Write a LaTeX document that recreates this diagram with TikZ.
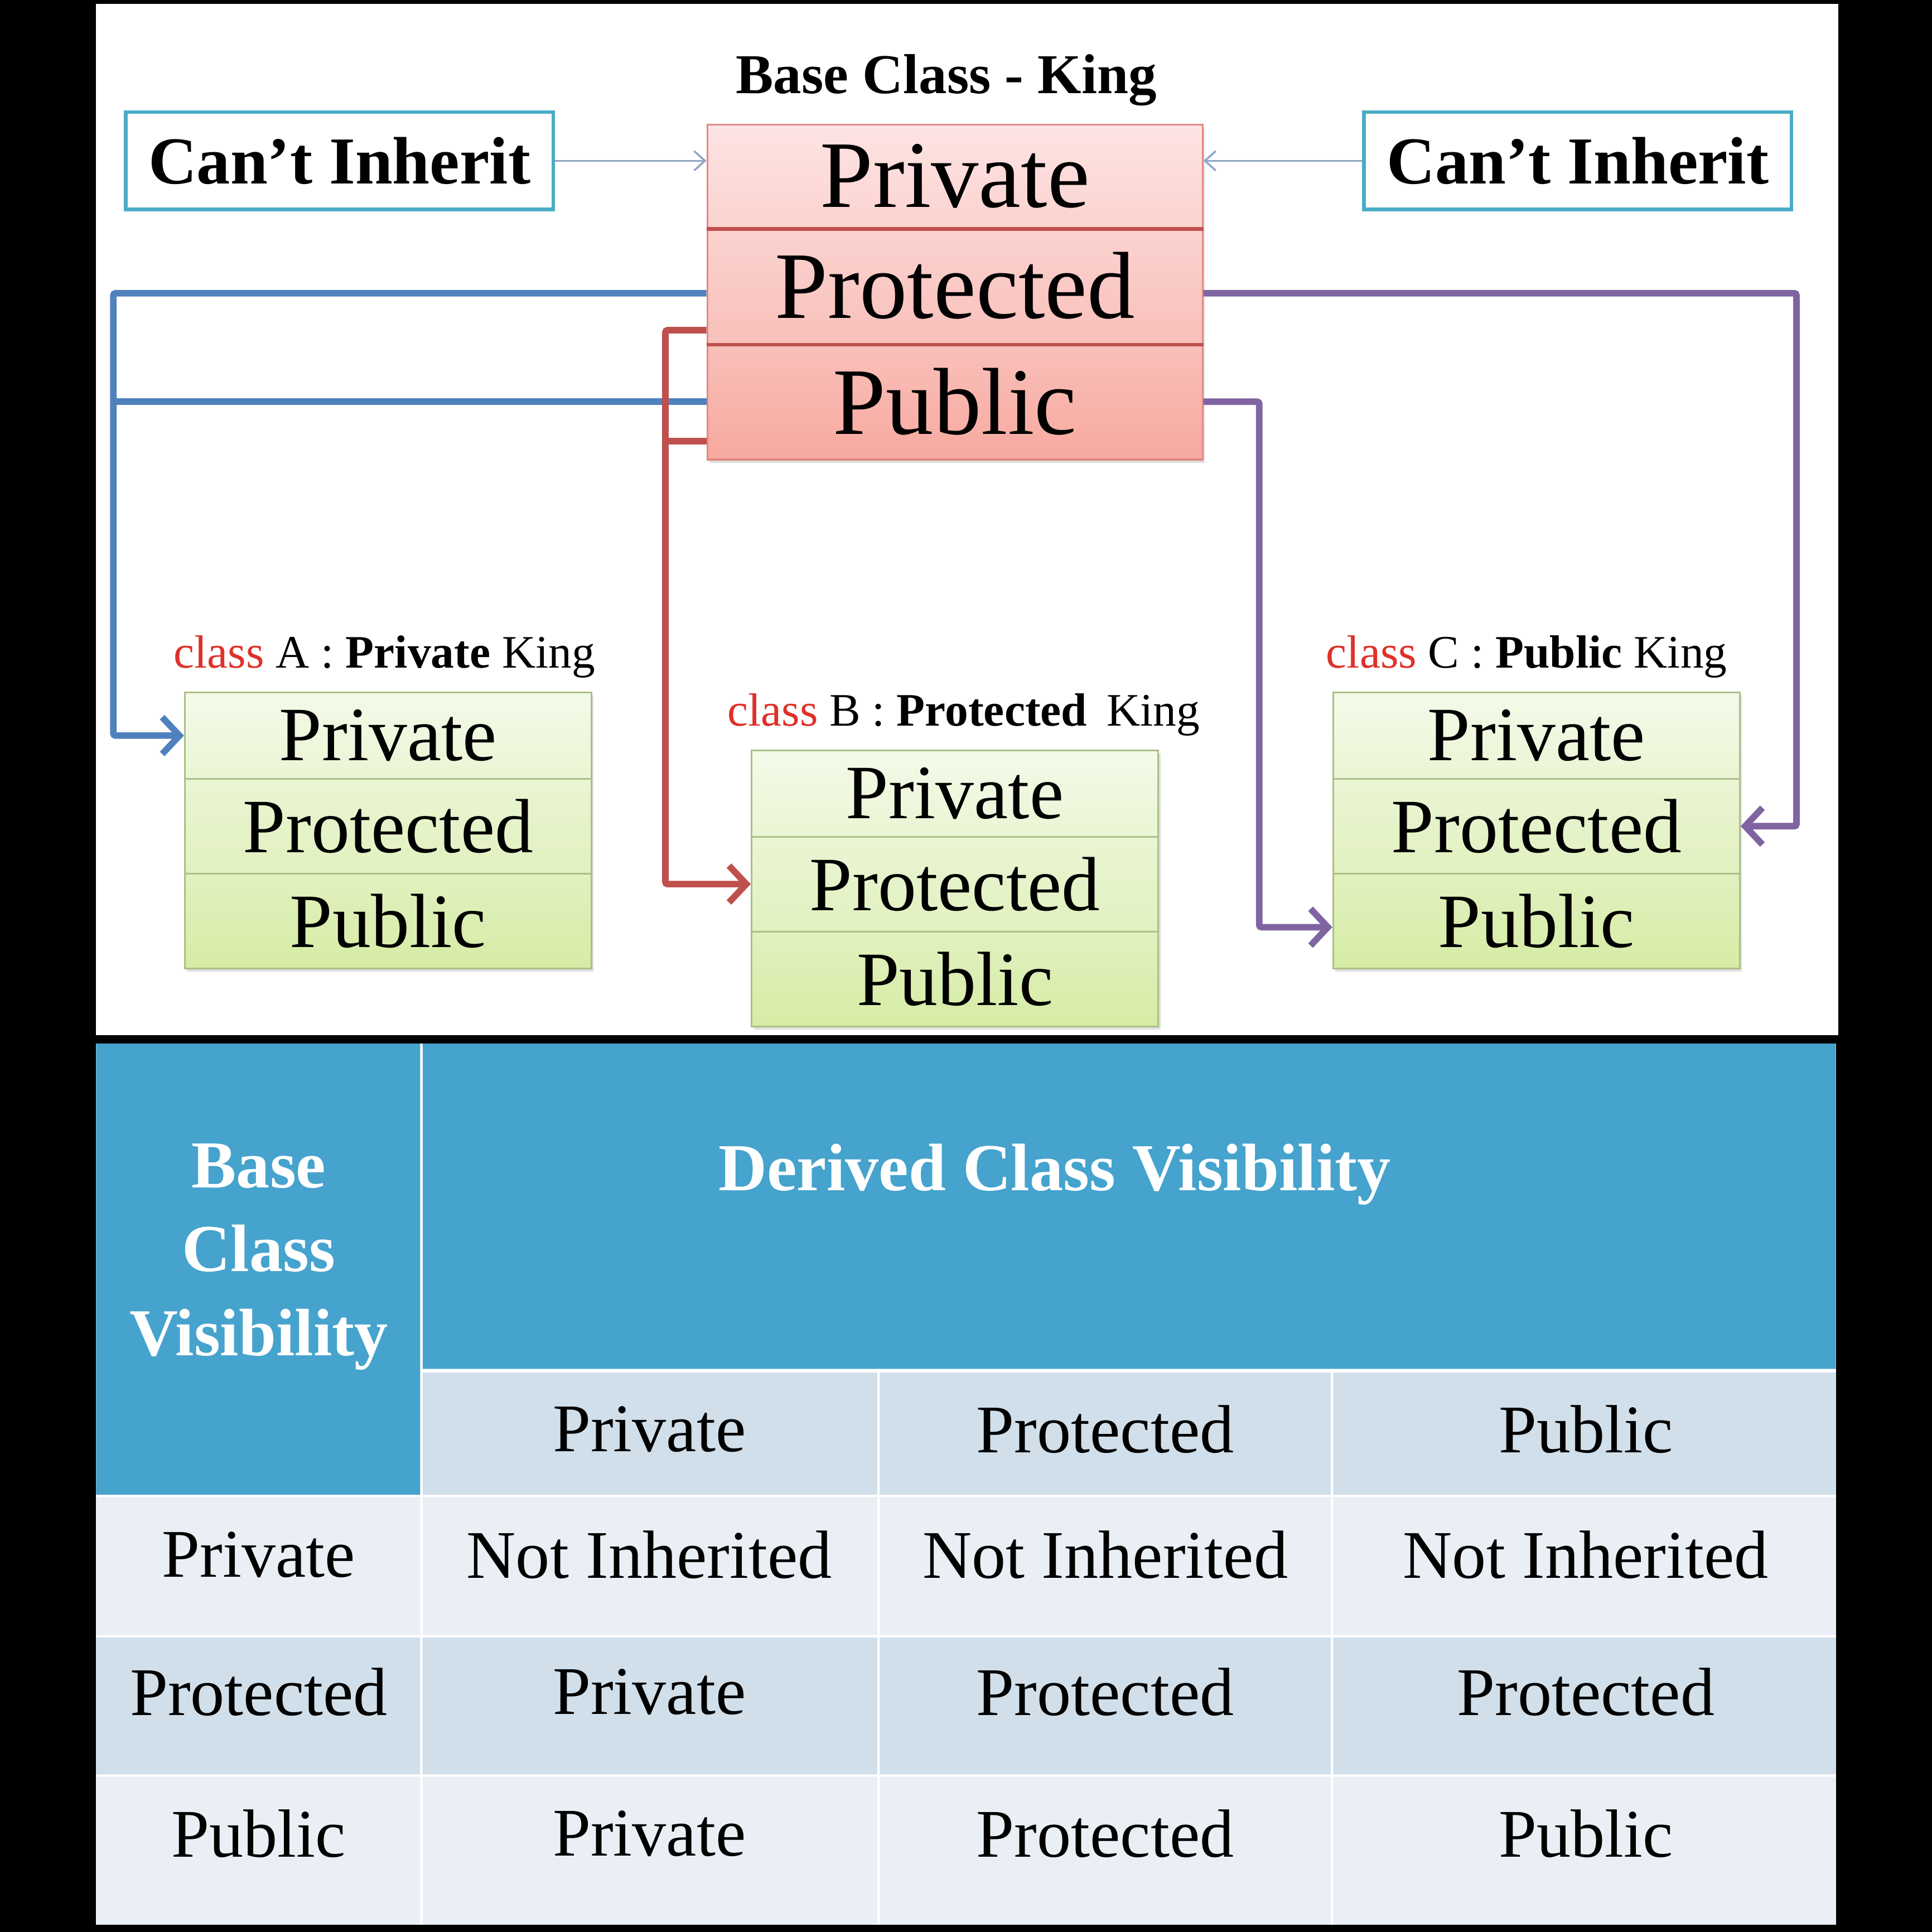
\documentclass[tikz,border=0pt]{standalone}
\usepackage{fontspec}
\setmainfont{Liberation Serif}
\usetikzlibrary{arrows.meta,calc,shadows}

\definecolor{inhblue}{HTML}{4BACC6}
\definecolor{cantgray}{HTML}{8EA6C6}
\definecolor{kingline}{HTML}{C0504D}
\definecolor{kingedge}{HTML}{E08A84}
\definecolor{pinka}{HTML}{FDE4E3}
\definecolor{pinkb}{HTML}{FBD3D0}
\definecolor{pinkc}{HTML}{F9C0BA}
\definecolor{pinkd}{HTML}{F7A99F}
\definecolor{greena}{HTML}{F4FAE9}
\definecolor{greenb}{HTML}{EAF5D4}
\definecolor{greenc}{HTML}{E1F1BF}
\definecolor{greend}{HTML}{D6ECA5}
\definecolor{greenedge}{HTML}{ABBF86}
\definecolor{privblue}{HTML}{4F81BD}
\definecolor{protred}{HTML}{C0504D}
\definecolor{pubpurple}{HTML}{8064A2}
\definecolor{classred}{HTML}{E0302A}
\definecolor{headblue}{HTML}{45A3CD}
\definecolor{celldark}{HTML}{D0DFEA}
\definecolor{celllight}{HTML}{E9EFF5}

\tikzset{
  box/.style 2 args={rectangle, inner sep=0pt, minimum width=#1*0.02cm, minimum height=#2*0.02cm},
  inherit/.style={box={347}{79}, draw=inhblue, line width=1.7pt, fill=white,
    font=\fontsize{31}{37}\selectfont\bfseries},
  title/.style={font=\fontsize{26}{31}\selectfont\bfseries},
  kingrow/.style n args={3}{box={402}{#1}, top color=#2, bottom color=#3, draw=kingedge,
    line width=0.8pt, font=\fontsize{44}{52}\selectfont,
    drop shadow={shadow xshift=1pt, shadow yshift=-1.5pt, opacity=.25}},
  classrow/.style n args={3}{box={330}{#1}, top color=#2, bottom color=#3, draw=greenedge,
    line width=0.8pt, font=\fontsize{35.5}{42}\selectfont,
    drop shadow={shadow xshift=1pt, shadow yshift=-1.5pt, opacity=.25}},
  classlabel/.style={font=\fontsize{21.5}{26}\selectfont},
  cantarrow/.style={draw=cantgray, line width=0.9pt, -{Straight Barb[length=5pt,width=9pt]}},
  privline/.style={draw=privblue, line width=3pt, rounded corners=1pt},
  protline/.style={draw=protred, line width=3pt, rounded corners=1pt},
  publine/.style={draw=pubpurple, line width=3pt, rounded corners=1pt},
  tip/.style={-{Straight Barb[length=8pt,width=17pt]}},
  headtext/.style={white, align=center, font=\fontsize{31}{38.7}\selectfont\bfseries},
  celltext/.style={font=\fontsize{31.5}{38}\selectfont}
}

\begin{document}
\begin{tikzpicture}[x=0.02cm, y=-0.02cm]
  \fill[black] (0,0) rectangle (1568,1568);
  \fill[white] (78,3) rectangle (1492,840);

  % base class
  \node[title] (ktitle) at (768,65) {Base Class - King};
  \node[kingrow={84}{pinka}{pinkb}] (kpri) at (775,143) {Private};
  \node[kingrow={94}{pinkb}{pinkc}] (kpro) at (775,232) {Protected};
  \node[kingrow={94}{pinkc}{pinkd}] (kpub) at (775,326) {Public};
  \draw[kingline, line width=1.7pt] (kpri.south west) -- (kpri.south east);
  \draw[kingline, line width=1.7pt] (kpro.south west) -- (kpro.south east);

  \node[inherit] (linh) at (275.5,130.5) {Can’t Inherit};
  \node[inherit] (rinh) at (1280.5,130.5) {Can’t Inherit};
  \draw[cantarrow] (linh.east) -- (linh.east -| kpri.west);
  \draw[cantarrow] (rinh.west) -- (rinh.west -| kpri.east);

  % derived classes
  \node[classlabel] (alabel) at (312,533) {\textcolor{classred}{class} A : \textbf{Private} King};
  \node[classrow={70}{greena}{greenb}] (apri) at (315,597) {Private};
  \node[classrow={77}{greenb}{greenc}] (apro) at (315,670.5) {Protected};
  \node[classrow={77}{greenc}{greend}] (apub) at (315,747.5) {Public};

  \node[classlabel] (blabel) at (782,580) {\textcolor{classred}{class} B : \textbf{Protected}\, King};
  \node[classrow={70}{greena}{greenb}] (bpri) at (775,644) {Private};
  \node[classrow={77}{greenb}{greenc}] (bpro) at (775,717.5) {Protected};
  \node[classrow={77}{greenc}{greend}] (bpub) at (775,794.5) {Public};

  \node[classlabel] (clabel) at (1239,533) {\textcolor{classred}{class} C : \textbf{Public} King};
  \node[classrow={70}{greena}{greenb}] (cpri) at (1247,597) {Private};
  \node[classrow={77}{greenb}{greenc}] (cpro) at (1247,670.5) {Protected};
  \node[classrow={77}{greenc}{greend}] (cpub) at (1247,747.5) {Public};

  % inheritance paths
  \coordinate (ablue) at (92,0);
  \coordinate (bred) at (540,0);
  \coordinate (cfar) at (1458,0);
  \coordinate (cnear) at (1022,0);
  \draw[privline, tip] ($(kpro.west)+(0,6)$) -| (ablue |- apri.west) -- (apri.west);
  \draw[privline] (kpub.west) -- (ablue |- kpub.west);
  \draw[protline, tip] ($(kpro.west)+(0,36)$) -| (bred |- bpro.west) -- (bpro.west);
  \draw[protline] ($(kpub.west)+(0,32)$) coordinate (kred) -- (bred |- kred);
  \draw[publine, tip] ($(kpro.east)+(0,6)$) -| (cfar |- cpro.east) -- (cpro.east);
  \draw[publine, tip] (kpub.east) -| ($(cnear |- cpub.west)+(0,5)$) -- ($(cpub.west)+(0,5)$);

  % visibility table
  \fill[white] (78,847) rectangle (1490,1562);
  \fill[headblue] (78,847) rectangle (341,1213) (343,847) rectangle (1490,1111);
  \fill[celldark] (343,1114) rectangle (712,1213) (714,1114) rectangle (1080,1213)
    (1082,1114) rectangle (1490,1213);
  \fill[celllight] (78,1215) rectangle (341,1327) (343,1215) rectangle (712,1327)
    (714,1215) rectangle (1080,1327) (1082,1215) rectangle (1490,1327);
  \fill[celldark] (78,1329) rectangle (341,1440) (343,1329) rectangle (712,1440)
    (714,1329) rectangle (1080,1440) (1082,1329) rectangle (1490,1440);
  \fill[celllight] (78,1442) rectangle (341,1562) (343,1442) rectangle (712,1562)
    (714,1442) rectangle (1080,1562) (1082,1442) rectangle (1490,1562);

  \node[headtext] (basevis) at (210,1020) {Base\\Class\\Visibility};
  \node[headtext] (derivedvis) at (856,953) {Derived Class Visibility};
  \node[celltext] (hpri) at (527,1160) {Private};
  \node[celltext] (hpro) at (897,1160) {Protected};
  \node[celltext] (hpub) at (1287,1160) {Public};

  \node[celltext] (pri) at (210,1262) {Private};
  \node[celltext] (pria) at (527,1262) {Not Inherited};
  \node[celltext] (prib) at (897,1262) {Not Inherited};
  \node[celltext] (pric) at (1287,1262) {Not Inherited};

  \node[celltext] (pro) at (210,1373) {Protected};
  \node[celltext] (proa) at (527,1373) {Private};
  \node[celltext] (prob) at (897,1373) {Protected};
  \node[celltext] (proc) at (1287,1373) {Protected};

  \node[celltext] (pub) at (210,1488) {Public};
  \node[celltext] (puba) at (527,1488) {Private};
  \node[celltext] (pubb) at (897,1488) {Protected};
  \node[celltext] (pubc) at (1287,1488) {Public};
\end{tikzpicture}
\end{document}
